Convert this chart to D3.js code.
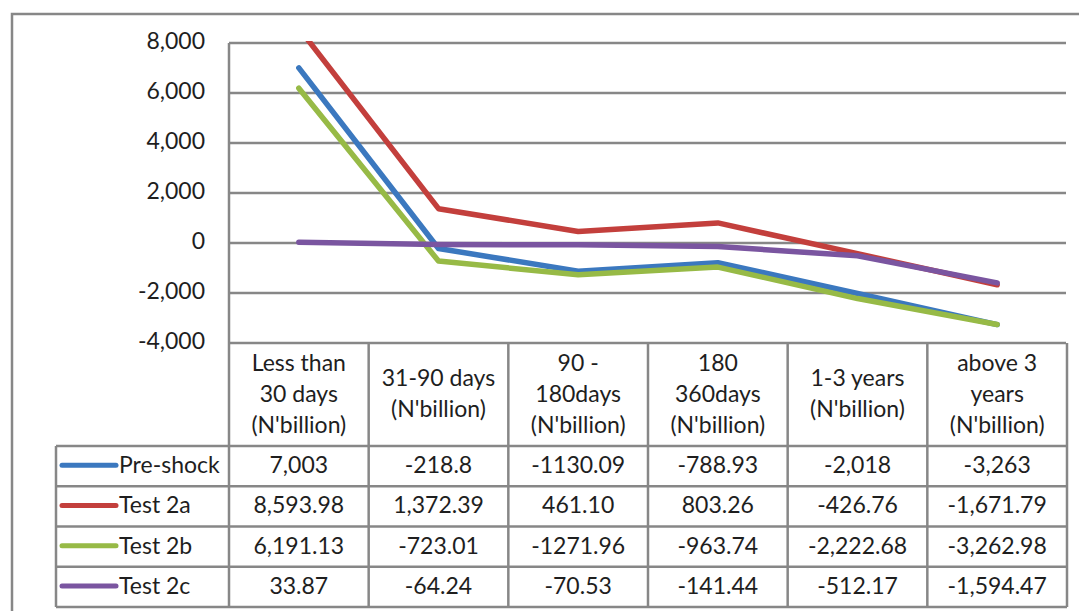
<!DOCTYPE html>
<html>
<head>
<meta charset="utf-8">
<script src="https://cdn.jsdelivr.net/npm/d3@7"></script>
<style>
  html, body { margin: 0; padding: 0; background: #fff; }
  svg { display: block; }
  text { font-family: Lato, "Open Sans", sans-serif; fill: #1e1e1e; }
</style>
</head>
<body>
<svg id="chart" width="1079" height="611"></svg>
<script>
// ---- data ----
const categories = ["<30d", "31-90d", "90-180d", "180-360d", "1-3y", ">3y"];
const headerLines = [
  ["Less than", "30 days", "(N'billion)"],
  ["31-90 days", "(N'billion)"],
  ["90 -", "180days", "(N'billion)"],
  ["180", "360days", "(N'billion)"],
  ["1-3 years", "(N'billion)"],
  ["above 3", "years", "(N'billion)"]
];
const seriesNames = ["Pre-shock", "Test 2a", "Test 2b", "Test 2c"];
const seriesColors = ["#3B78BF", "#C33F3C", "#97BA46", "#7A55A0"];
const preShock = [7003, -218.8, -1130.09, -788.93, -2018, -3263];
const test2a = [8593.98, 1372.39, 461.10, 803.26, -426.76, -1671.79];
const test2b = [6191.13, -723.01, -1271.96, -963.74, -2222.68, -3262.98];
const test2c = [33.87, -64.24, -70.53, -141.44, -512.17, -1594.47];
const preShockLabels = ["7,003", "-218.8", "-1130.09", "-788.93", "-2,018", "-3,263"];
const test2aLabels = ["8,593.98", "1,372.39", "461.10", "803.26", "-426.76", "-1,671.79"];
const test2bLabels = ["6,191.13", "-723.01", "-1271.96", "-963.74", "-2,222.68", "-3,262.98"];
const test2cLabels = ["33.87", "-64.24", "-70.53", "-141.44", "-512.17", "-1,594.47"];
const yTicks = [-4000, -2000, 0, 2000, 4000, 6000, 8000];

const seriesValues = [preShock, test2a, test2b, test2c];
const seriesLabels = [preShockLabels, test2aLabels, test2bLabels, test2cLabels];

// ---- layout ----
const plotLeft = 229, plotRight = 1067, plotTop = 43, plotBottom = 343;
const headerBottom = 446, tableBottom = 607, legendLeft = 56;
const gridColor = "#878787";
const fontSize = 23;
const textShift = -2;

const svg = d3.select("#chart");
const x = d3.scaleBand().domain(categories).range([plotLeft, plotRight]);
const y = d3.scaleLinear().domain([-4000, 8000]).range([plotBottom, plotTop]);
const rowY = d3.scaleBand().domain(seriesNames).range([headerBottom, tableBottom]);

const locale = d3.formatLocale({decimal: ".", thousands: ",", grouping: [3], currency: ["", ""], minus: "-"});
const fmt = locale.format(",");

// outer border (extends past the right and bottom edges)
svg.append("path")
  .attr("d", `M12,611 L12,14 L1079,14`)
  .attr("fill", "none").attr("stroke", gridColor).attr("stroke-width", 2.5);

// gridlines
svg.append("g").selectAll("line").data(yTicks).join("line")
  .attr("x1", plotLeft).attr("x2", plotRight - 1)
  .attr("y1", d => y(d)).attr("y2", d => y(d))
  .attr("stroke", gridColor).attr("stroke-width", 2.5);

// y axis labels
const yAxis = d3.axisLeft(y).tickValues(yTicks).tickFormat(fmt).tickSize(0).tickPadding(24);
const ya = svg.append("g").attr("transform", `translate(${plotLeft},${textShift})`).call(yAxis);
ya.select(".domain").remove();
ya.selectAll("text").attr("font-size", fontSize).attr("font-family", "Lato, 'Open Sans', sans-serif").attr("fill", "#1e1e1e");

// table borders
const tb = svg.append("g").attr("stroke", gridColor).attr("stroke-width", 2.5).attr("fill", "none");
tb.append("line").attr("x1", plotLeft).attr("x2", plotLeft).attr("y1", plotTop).attr("y2", tableBottom);
tb.selectAll(".colb").data(categories).join("line").attr("class", "colb")
  .attr("x1", d => x(d) + x.bandwidth()).attr("x2", d => x(d) + x.bandwidth())
  .attr("y1", plotBottom).attr("y2", tableBottom);
tb.append("line").attr("x1", legendLeft).attr("x2", legendLeft).attr("y1", headerBottom).attr("y2", tableBottom);
tb.selectAll(".rowb").data(seriesNames).join("line").attr("class", "rowb")
  .attr("x1", legendLeft).attr("x2", plotRight)
  .attr("y1", d => rowY(d)).attr("y2", d => rowY(d));
tb.append("line").attr("x1", legendLeft).attr("x2", plotRight).attr("y1", tableBottom).attr("y2", tableBottom);

// header text
const lineH = 31;
const headerMid = (plotBottom + headerBottom) / 2 + textShift;
categories.forEach((c, i) => {
  const lines = headerLines[i];
  const cx = x(c) + x.bandwidth() / 2;
  lines.forEach((t, j) => {
    svg.append("text")
      .attr("x", cx)
      .attr("y", headerMid + (j - (lines.length - 1) / 2) * lineH)
      .attr("text-anchor", "middle").attr("dominant-baseline", "central")
      .attr("font-size", fontSize).text(t);
  });
});

// table values + legend
seriesNames.forEach((s, k) => {
  const cy = rowY(s) + rowY.bandwidth() / 2;
  svg.append("line")
    .attr("x1", 62).attr("x2", 116).attr("y1", cy - 1).attr("y2", cy - 1)
    .attr("stroke", seriesColors[k]).attr("stroke-width", 5).attr("stroke-linecap", "round");
  svg.append("text").attr("x", 119).attr("y", cy + textShift)
    .attr("dominant-baseline", "central").attr("font-size", fontSize).text(s);
  categories.forEach((c, i) => {
    svg.append("text")
      .attr("x", x(c) + x.bandwidth() / 2).attr("y", cy + textShift)
      .attr("text-anchor", "middle").attr("dominant-baseline", "central")
      .attr("font-size", fontSize).text(seriesLabels[k][i]);
  });
});

// lines
svg.append("clipPath").attr("id", "plotclip").append("rect")
  .attr("x", plotLeft).attr("y", plotTop - 2).attr("width", plotRight - plotLeft).attr("height", plotBottom - plotTop + 2);
const line = d3.line().x((d, i) => x(categories[i]) + x.bandwidth() / 2).y(d => y(d));
svg.append("g").attr("clip-path", "url(#plotclip)")
  .selectAll("path").data(seriesValues).join("path")
  .attr("d", d => line(d))
  .attr("fill", "none")
  .attr("stroke", (d, i) => seriesColors[i])
  .attr("stroke-width", 5.5)
  .attr("stroke-linejoin", "round")
  .attr("stroke-linecap", "round");
</script>
</body>
</html>
